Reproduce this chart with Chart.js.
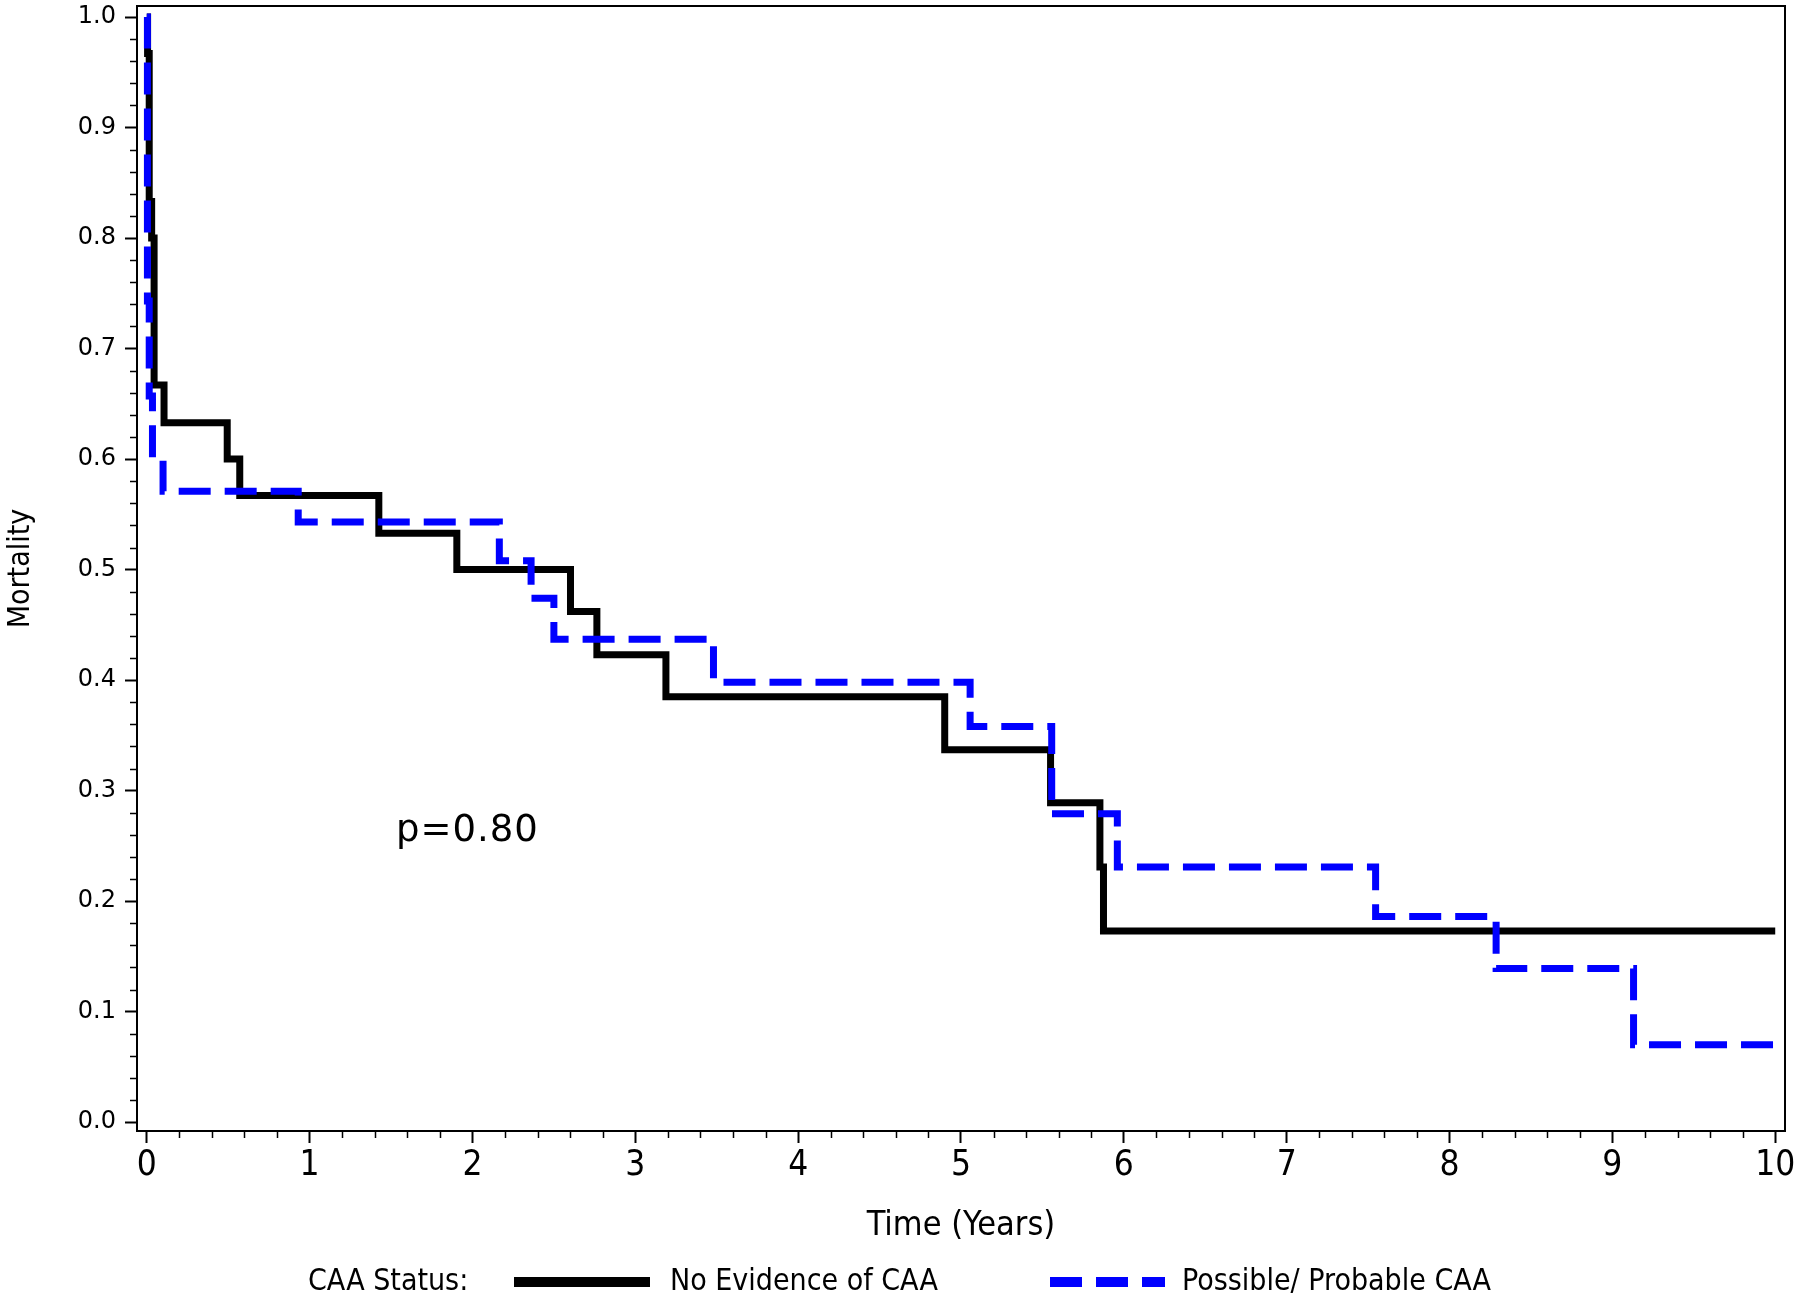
<!DOCTYPE html>
<html>
<head>
<meta charset="utf-8">
<script src="https://cdn.jsdelivr.net/npm/chart.js@4.4.1/dist/chart.umd.min.js"></script>
<style>
  html, body { margin: 0; padding: 0; background: #fff; }
</style>
</head>
<body>
<canvas id="km" width="1800" height="1306"></canvas>
<script>
// time in years, mortality curve value after each step
const noCaaTime = [0, 0.005, 0.015, 0.03, 0.045, 0.106, 0.494, 0.571, 1.425, 1.904, 2.602, 2.764, 3.188, 4.90, 5.55, 5.853, 5.875, 10];
const noCaaMort = [1.0, 0.967, 0.833, 0.800, 0.667, 0.633, 0.600, 0.567, 0.533, 0.500, 0.462, 0.423, 0.385, 0.337, 0.289, 0.231, 0.173, 0.173];

const caaTime = [0, 0.004, 0.015, 0.035, 0.10, 0.93, 2.165, 2.36, 2.50, 3.48, 5.056, 5.557, 5.96, 7.546, 8.286, 9.13, 10];
const caaMort = [1.0, 0.743, 0.657, 0.600, 0.571, 0.543, 0.508, 0.474, 0.437, 0.398, 0.358, 0.279, 0.231, 0.186, 0.139, 0.070, 0.070];

const seriesNames = ["No Evidence of CAA", "Possible/ Probable CAA"];
const legendTitle = "CAA Status:";
const xTicks = [0, 1, 2, 3, 4, 5, 6, 7, 8, 9, 10];
const yTicks = [0, 0.1, 0.2, 0.3, 0.4, 0.5, 0.6, 0.7, 0.8, 0.9, 1.0];
const pText = "p=0.80";
const pPos = [1.53, 0.263];

const narrow = "'Liberation Sans Narrow', 'Arial Narrow', 'DejaVu Sans Condensed', sans-serif";
const wide = "'DejaVu Sans', sans-serif";

const toPoints = (xs, ys) => xs.map((t, i) => ({ x: t, y: ys[i] }));

// box frame, minor ticks, p-value and the inline legend
const extras = {
  id: "extras",
  afterDraw(chart) {
    const { ctx, chartArea: a, scales } = chart;
    const x = scales.x, y = scales.y;
    ctx.save();
    ctx.strokeStyle = "#000";
    ctx.lineWidth = 2;
    ctx.strokeRect(a.left, a.top, a.right - a.left, a.bottom - a.top);

    ctx.lineWidth = 1.5;
    ctx.beginPath();
    for (let i = 0; i <= 50; i++) {
      if (i % 5 === 0) continue;
      const py = Math.round(y.getPixelForValue(i / 50)) + 0.5;
      ctx.moveTo(a.left - 7, py);
      ctx.lineTo(a.left, py);
      const px = Math.round(x.getPixelForValue(i / 5)) + 0.5;
      ctx.moveTo(px, a.bottom);
      ctx.lineTo(px, a.bottom + 7);
    }
    ctx.stroke();

    ctx.fillStyle = "#000";
    ctx.font = "37px " + wide;
    ctx.textBaseline = "middle";
    ctx.letterSpacing = "1px";
    ctx.fillText(pText, x.getPixelForValue(pPos[0]), y.getPixelForValue(pPos[1]));
    ctx.letterSpacing = "0px";

    // legend
    const ly = 1282;
    ctx.font = "30px " + narrow;
    ctx.fillText(legendTitle, 308, ly);
    const ds = chart.data.datasets;
    const items = [
      { x0: 514, x1: 650, tx: 670 },
      { x0: 1050, x1: 1165, tx: 1182 }
    ];
    items.forEach((it, i) => {
      ctx.save();
      ctx.strokeStyle = ds[i].borderColor;
      ctx.lineWidth = ds[i].borderWidth + 3;
      ctx.setLineDash(ds[i].borderDash || []);
      ctx.beginPath();
      ctx.moveTo(it.x0, ly);
      ctx.lineTo(it.x1, ly);
      ctx.stroke();
      ctx.restore();
      ctx.fillText(ds[i].label, it.tx, ly);
    });
    ctx.restore();
  }
};

new Chart(document.getElementById("km"), {
  type: "line",
  data: {
    datasets: [
      {
        label: seriesNames[0],
        data: toPoints(noCaaTime, noCaaMort),
        borderColor: "#000000",
        borderWidth: 7,
        stepped: true,
        pointRadius: 0,
        fill: false,
        order: 1
      },
      {
        label: seriesNames[1],
        data: toPoints(caaTime, caaMort),
        borderColor: "#0000ff",
        borderWidth: 7,
        borderDash: [32, 14],
        stepped: true,
        pointRadius: 0,
        fill: false,
        order: 0
      }
    ]
  },
  options: {
    responsive: false,
    animation: false,
    layout: { autoPadding: false, padding: { left: 0, top: 6, right: 15, bottom: 55 } },
    plugins: { legend: { display: false }, tooltip: { enabled: false } },
    scales: {
      x: {
        type: "linear",
        min: -0.06,
        max: 10.06,
        afterBuildTicks: (s) => { s.ticks = xTicks.map((v) => ({ value: v })); },
        afterFit: (s) => { s.height = 120; s.paddingLeft = 0; s.paddingRight = 0; },
        grid: { display: true, drawOnChartArea: false, drawTicks: true, tickLength: 12, tickWidth: 2, tickColor: "#000" },
        border: { display: true, color: "#000", width: 2 },
        ticks: { font: { family: narrow, size: 35 }, color: "#000", padding: 2, maxRotation: 0, autoSkip: false, callback: (v) => String(v) },
        title: { display: true, text: "Time (Years)", font: { family: narrow, size: 34 }, color: "#000", padding: { top: 0, bottom: 4 } }
      },
      y: {
        type: "linear",
        min: -0.008,
        max: 1.01,
        afterBuildTicks: (s) => { s.ticks = yTicks.map((v) => ({ value: v })); },
        afterFit: (s) => { s.width = 137; s.paddingTop = 0; s.paddingBottom = 0; },
        grid: { display: true, drawOnChartArea: false, drawTicks: true, tickLength: 12, tickWidth: 2, tickColor: "#000" },
        border: { display: true, color: "#000", width: 2 },
        ticks: { font: { family: wide, size: 24 }, color: "#000", padding: 9, autoSkip: false, callback: (v) => v.toFixed(1) },
        title: { display: true, text: "Mortality", font: { family: narrow, size: 30 }, color: "#000", padding: { top: 3, bottom: 0 } }
      }
    }
  },
  plugins: [extras]
});
</script>
</body>
</html>
